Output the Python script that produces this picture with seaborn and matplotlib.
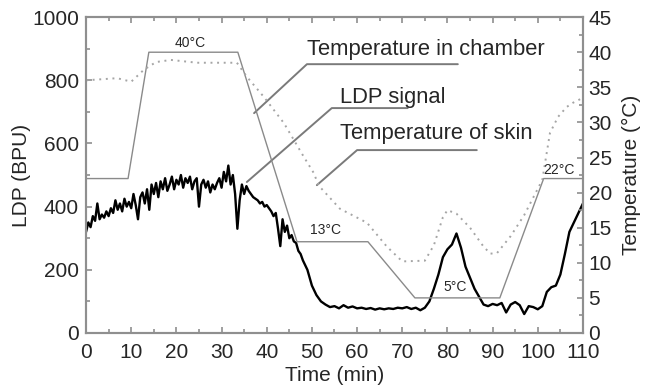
import numpy as np
import pandas as pd
import seaborn as sns
import matplotlib.pyplot as plt
from matplotlib.ticker import MultipleLocator

# LDP signal (BPU): dense part every 0.5 min up to 48 min, then every minute
ldp_time = list(np.arange(0, 48.5, 0.5)) + list(range(49, 111))
ldp_values = [
    320, 350, 335, 370, 355, 410, 360, 375, 365, 385,
    370, 395, 380, 420, 390, 410, 385, 425, 400, 415,
    395, 440, 405, 360, 430, 445, 410, 455, 390, 470,
    440, 475, 430, 480, 455, 490, 450, 470, 495, 455,
    485, 470, 500, 460, 490, 475, 495, 455, 480, 490,
    400, 470, 485, 460, 480, 445, 470, 455, 475, 490,
    460, 510, 480, 530, 470, 500, 440, 330, 420, 470,
    440, 465, 450, 440, 430, 425, 420, 410, 415, 400,
    405, 395, 385, 370, 380, 330, 275, 360, 320, 340,
    300, 310, 290, 285, 260, 250, 230,
    200, 150, 120, 100, 90, 82, 85, 78, 88, 80,
    84, 78, 80, 76, 79, 74, 78, 75, 78, 76,
    80, 78, 82, 76, 80, 72, 80, 100, 140, 185,
    240, 265, 280, 315, 270, 210, 175, 140, 115, 90,
    85, 92, 88, 95, 65, 90, 98, 88, 60, 85,
    82, 75, 85, 130, 145, 150, 185, 250, 320, 350,
    380, 410,
]

# skin temperature (°C)
skin_time = [0, 6.9, 10, 12.8, 15.5, 18.8, 24.6, 33.4, 35.6, 39.4, 43.8, 48.2,
             50.4, 51.5, 56.2, 62.2, 66.6, 70, 75, 77, 79, 80, 82, 85, 88,
             89.5, 91, 94, 97, 101, 102.7, 104.5, 106.4, 107.8, 110]
skin_values = [36.0, 36.3, 35.8, 37.5, 38.6, 38.9, 38.5, 38.5, 36.5, 33.6, 29.9, 25.1,
               22.8, 21.0, 17.7, 15.7, 12.3, 10.2, 10.3, 12.5, 16.5, 17.5, 17.0, 15.0, 12.3,
               11.3, 11.4, 13.8, 16.8, 21.8, 28.5, 30.8, 32.2, 32.8, 33.5]

# chamber temperature (°C)
chamber_time = [0, 9.3, 13.9, 33.6, 46.7, 62.4, 72.8, 91.6, 101.3, 110]
chamber_values = [22, 22, 40, 40, 13, 13, 5, 5, 22, 22]

sns.set_style("ticks")
plt.rcParams['font.family'] = ['Liberation Sans', 'DejaVu Sans']

fig = plt.figure(figsize=(6.47, 3.89), dpi=100)
ax = fig.add_axes([0.133, 0.144, 0.768, 0.812])
ax2 = ax.twinx()

sns.lineplot(x=chamber_time, y=chamber_values, ax=ax2, color="#8a8a8a", linewidth=1.0)
sns.lineplot(x=skin_time, y=skin_values, ax=ax2, color="#a5a5a5", linewidth=1.4,
             linestyle=(0, (1, 2.4)))
sns.lineplot(x=ldp_time, y=ldp_values, ax=ax, color="black", linewidth=1.7)

ax.set_xlim(0, 110)
ax.set_ylim(0, 1000)
ax2.set_ylim(0, 45)
ax.xaxis.set_major_locator(MultipleLocator(10))
ax.xaxis.set_minor_locator(MultipleLocator(5))
ax.yaxis.set_major_locator(MultipleLocator(200))
ax.yaxis.set_minor_locator(MultipleLocator(100))
ax2.yaxis.set_major_locator(MultipleLocator(5))
ax2.yaxis.set_minor_locator(MultipleLocator(2.5))

grey = "#8f8f8f"
for a in (ax, ax2):
    for s in a.spines.values():
        s.set_color(grey)
        s.set_linewidth(1.5)
    a.tick_params(which="both", direction="in", color=grey, labelsize=15, width=1.2)
    a.tick_params(which="major", length=4)
    a.tick_params(which="minor", length=3)
ax.tick_params(axis="x", which="both", top=True, pad=7)
ax.tick_params(axis="y", pad=5)
ax2.tick_params(axis="y", pad=4)

ax.set_xlabel("Time (min)", fontsize=15, labelpad=3)
ax.set_ylabel("LDP (BPU)", fontsize=15, labelpad=1)
ax2.set_ylabel("Temperature (°C)", fontsize=15, labelpad=7)

# small temperature annotations
for tx, ty, s in [(23, 41.3, "40°C"), (53.1, 14.7, "13°C"), (81.8, 6.5, "5°C"), (104.7, 23.2, "22°C")]:
    ax2.text(tx, ty, s, fontsize=10, ha="center", va="center")

# leader lines and labels (left-axis data coordinates)
lc = "#7a7a7a"
ax.plot([37.2, 48.9, 82.3], [696, 851, 851], color=lc, linewidth=1.4)
ax.plot([35.6, 54.4, 71.2], [478, 712, 712], color=lc, linewidth=1.4)
ax.plot([51.1, 60.0, 86.5], [468, 579, 579], color=lc, linewidth=1.4)
ax.text(48.9, 896, "Temperature in chamber", fontsize=15.8, va="center")
ax.text(56.2, 747, "LDP signal", fontsize=15.8, va="center")
ax.text(56.2, 633, "Temperature of skin", fontsize=15.8, va="center")

fig.savefig("out.png", dpi=100)
